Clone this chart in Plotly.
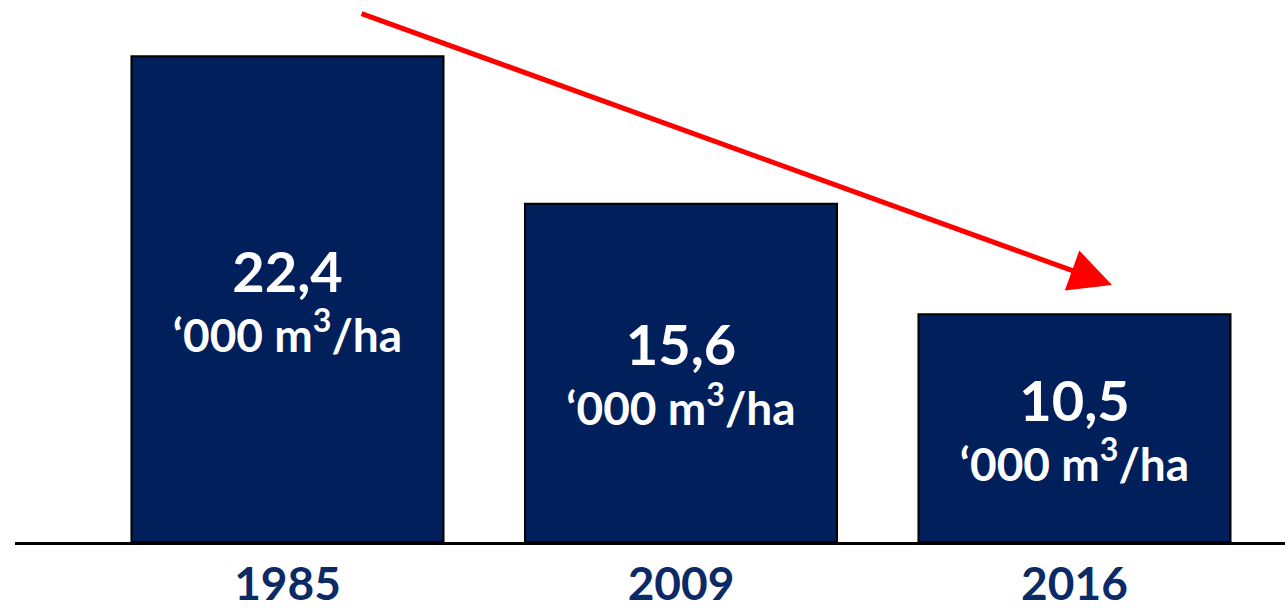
import plotly.graph_objects as go

years = ["1985", "2009", "2016"]
values = [22.4, 15.6, 10.5]
unit_label = "‘000 m<sup>3</sup>/ha"

bar_color = "#001F5B"
label_color = "#0B2A66"

texts = [
    "<span style='font-size:56px'><b>%s</b></span><br><b>%s</b>" % (f"{v:.1f}".replace(".", ","), unit_label)
    for v in values
]

fig = go.Figure()
fig.add_trace(go.Bar(
    x=years,
    y=values,
    text=texts,
    textposition="inside",
    insidetextanchor="middle",
    constraintext="none",
    textfont=dict(family="Lato", size=46, color="white"),
    marker=dict(color=bar_color, line=dict(color="black", width=2)),
    hoverinfo="skip",
))

fig.add_annotation(
    x=0.8638, y=0.4742, xref="paper", yref="paper",
    ax=-752, ay=-272, axref="pixel", ayref="pixel",
    showarrow=True, arrowhead=2, arrowsize=1.7, arrowwidth=5,
    arrowcolor="#FF0000", text="",
)

fig.update_layout(
    width=1285, height=613,
    margin=dict(l=15, r=0, t=0, b=71),
    paper_bgcolor="white", plot_bgcolor="white",
    bargap=0.207,
    showlegend=False,
    xaxis=dict(
        type="category",
        range=[-0.6925, 2.535],
        showline=True, linecolor="black", linewidth=3,
        showgrid=False, zeroline=False,
        ticks="", ticklen=0,
        tickfont=dict(family="Lato", size=46, color=label_color, weight="bold"),
        automargin=False,
    ),
    yaxis=dict(
        range=[0, 25],
        visible=False,
        showgrid=False, zeroline=False,
    ),
)

fig.write_html("out.html")
